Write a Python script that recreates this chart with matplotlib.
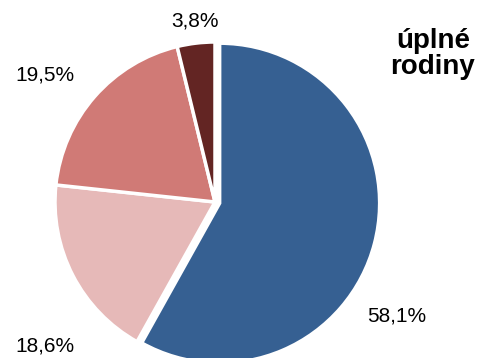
import matplotlib.pyplot as plt
import numpy as np

plt.rcParams["font.family"] = ["Liberation Sans", "DejaVu Sans"]

# share of each family type, clockwise from the top
values = [58.1, 18.6, 19.5, 3.8]
colors = ["#366092", "#E6B9B8", "#D07A76", "#632523"]
title = "úplné\nrodiny"

# label anchor points in pixel coords (x right, y down)
label_pos = [(397, 316), (45, 346), (45, 75), (195, 21)]

W, H = 480, 358


def main() -> None:
    fig = plt.figure(figsize=(W / 100, H / 100), dpi=100)
    ax = fig.add_axes([0, 0, 1, 1])

    cx, cy = 215, 202  # pie centre in pixels
    r = 160
    # only the big slice is pulled out a little (explode is in data units)
    explode = [0.03 * r, 0, 0, 0]
    ax.pie(
        values,
        colors=colors,
        explode=explode,
        startangle=90,
        counterclock=False,
        radius=r,
        center=(cx, H - cy),
        wedgeprops=dict(edgecolor="white", linewidth=2.5),
        frame=True,
    )
    ax.set_xlim(0, W)
    ax.set_ylim(0, H)
    ax.set_aspect("equal")
    ax.axis("off")

    for v, (x, y) in zip(values, label_pos):
        txt = f"{v:.1f}".replace(".", ",") + "%"
        ax.text(x, H - y, txt, ha="center", va="center", fontsize=15, color="black")

    ax.text(433, H - 54, title, ha="center", va="center", fontsize=20,
            fontweight="bold", linespacing=0.95)

    fig.savefig("out.png", dpi=100)


if __name__ == "__main__":
    main()
